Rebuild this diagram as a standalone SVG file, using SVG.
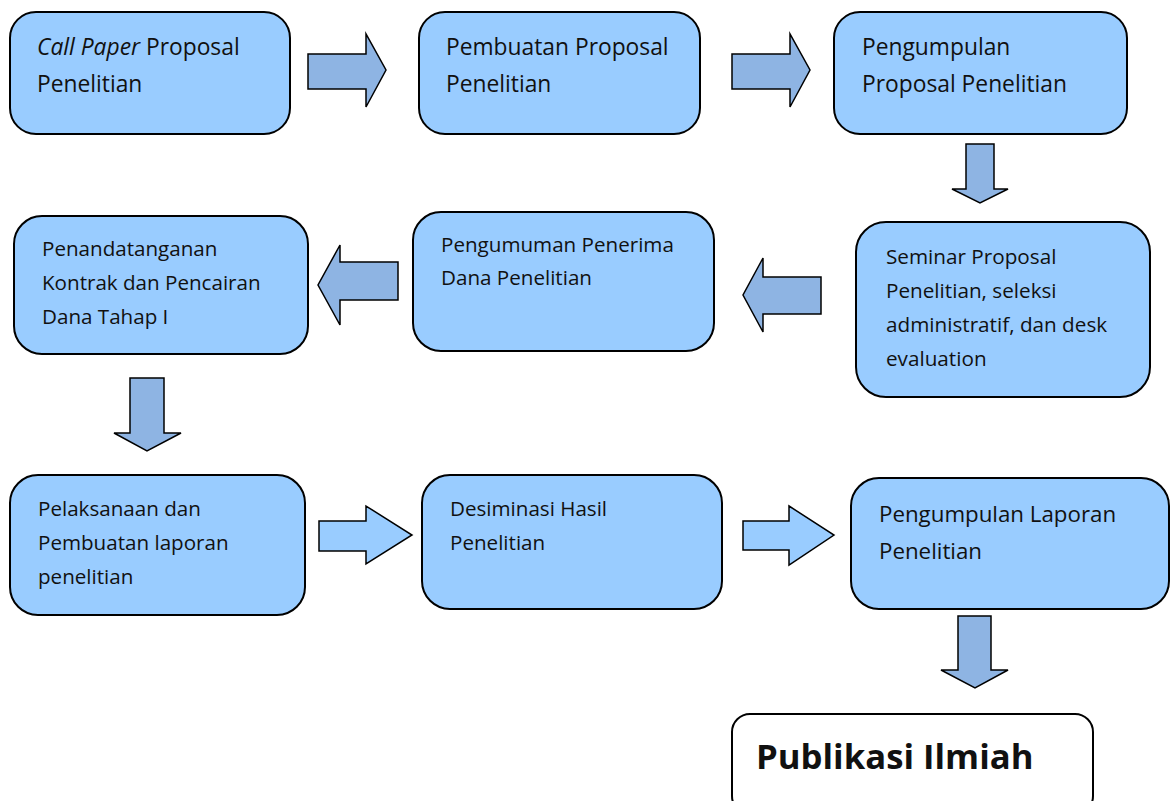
<svg xmlns="http://www.w3.org/2000/svg" width="1170" height="801" viewBox="0 0 1170 801">
<style>
.box{fill:#99CCFF;stroke:#000;stroke-width:2}
.pub{fill:#fff;stroke:#000;stroke-width:2}
.ad{fill:#8EB4E3;stroke:#000;stroke-width:1.5;stroke-linejoin:miter}
.al{fill:#99CCFF;stroke:#000;stroke-width:1.5}
text{font-family:"Open Sans","Noto Sans","Liberation Sans",sans-serif;fill:#111}
.t1{font-size:22.8px}
.t9{font-size:22.3px}
.t2{font-size:20.6px}
.t3{font-size:20.7px}
.big{font-size:34.7px;font-weight:bold}
</style>
<rect width="1170" height="801" fill="#fff"/>
<g id="connectors">
<polygon class="ad" points="308,54 366,54 366,34 386,70 366,107 366,89 308,89"/>
<polygon class="ad" points="732,54 790,54 790,34 810,70 790,107 790,89 732,89"/>
<polygon class="ad" points="966,144 994,144 994,189 1008,189 980,203 952,189 966,189"/>
<polygon class="ad" points="821,277 763,277 763,258 743,295 763,332 763,314 821,314"/>
<polygon class="ad" points="398,262 340,262 340,245 318,285 340,325 340,300 398,300"/>
<polygon class="ad" points="130,378 164,378 164,433 181,433 147,451 114,433 130,433"/>
<polygon class="al" points="319,521 366,521 366,506 412,535 366,564 366,551 319,551"/>
<polygon class="al" points="743,521 789,521 789,506 834,535 789,565 789,550 743,550"/>
<polygon class="ad" points="958,616 991,616 991,670 1008,670 975,688 941,670 958,670"/>
</g>
<g id="n1"><rect class="box" x="10" y="12" width="280" height="122" rx="26"/>
<text class="t1" x="37" y="55"><tspan font-style="italic">Call Paper</tspan> Proposal</text>
<text class="t1" x="37" y="92">Penelitian</text></g>
<g id="n2"><rect class="box" x="419" y="12" width="281" height="122" rx="26"/>
<text class="t1" x="446" y="55">Pembuatan Proposal</text>
<text class="t1" x="446" y="92">Penelitian</text></g>
<g id="n3"><rect class="box" x="834" y="12" width="293" height="122" rx="26"/>
<text class="t1" x="862" y="55">Pengumpulan</text>
<text class="t1" x="862" y="92">Proposal Penelitian</text></g>
<g id="n4"><rect class="box" x="856" y="222" width="294" height="175" rx="30"/>
<text class="t3" x="886" y="264">Seminar Proposal</text>
<text class="t3" x="886" y="298">Penelitian, seleksi</text>
<text class="t3" x="886" y="332">administratif, dan desk</text>
<text class="t3" x="886" y="366">evaluation</text></g>
<g id="n5"><rect class="box" x="413" y="212" width="301" height="139" rx="28"/>
<text class="t2" x="441" y="252">Pengumuman Penerima</text>
<text class="t2" x="441" y="285">Dana Penelitian</text></g>
<g id="n6"><rect class="box" x="14" y="216" width="294" height="138" rx="28"/>
<text class="t2" x="42" y="256">Penandatanganan</text>
<text class="t2" x="42" y="290">Kontrak dan Pencairan</text>
<text class="t2" x="42" y="324">Dana Tahap I</text></g>
<g id="n7"><rect class="box" x="10" y="475" width="295" height="140" rx="28"/>
<text class="t2" x="38" y="516">Pelaksanaan dan</text>
<text class="t2" x="38" y="550">Pembuatan laporan</text>
<text class="t2" x="38" y="584">penelitian</text></g>
<g id="n8"><rect class="box" x="422" y="475" width="300" height="134" rx="28"/>
<text class="t2" x="450" y="516">Desiminasi Hasil</text>
<text class="t2" x="450" y="550">Penelitian</text></g>
<g id="n9"><rect class="box" x="851" y="478" width="318" height="131" rx="28"/>
<text class="t9" x="879" y="522">Pengumpulan Laporan</text>
<text class="t9" x="879" y="559">Penelitian</text></g>
<g id="n10"><rect class="pub" x="732" y="714" width="361" height="100" rx="18"/>
<text class="big" x="756" y="769">Publikasi Ilmiah</text></g>
</svg>
